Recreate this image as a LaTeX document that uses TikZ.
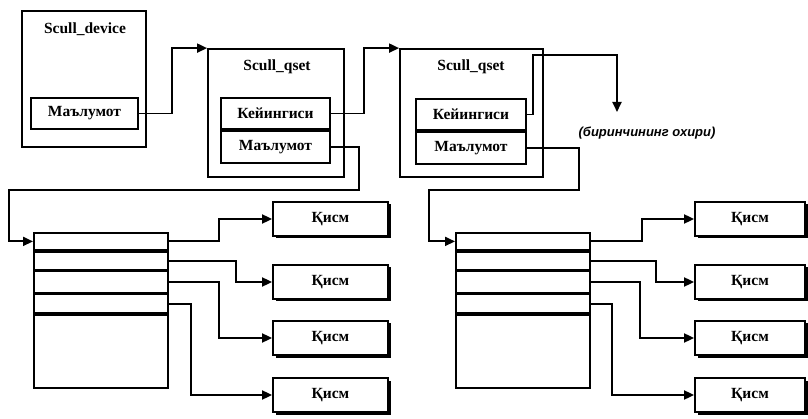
\documentclass[tikz,border=0pt]{standalone}
\usepackage{fontspec}
\setmainfont{Liberation Serif}
\newfontfamily\lblfont{Liberation Sans}
\usetikzlibrary{arrows.meta,shadows,calc}
\begin{document}
\begin{tikzpicture}[x=1pt,y=-1pt,
  box/.style={draw,line width=1.8pt,inner sep=0pt,font=\fontsize{15.5}{18}\selectfont\bfseries},
  frame/.style={draw,line width=1.8pt,inner sep=0pt},
  title/.style={inner sep=0pt,font=\fontsize{15.5}{18}\selectfont\bfseries},
  kism/.style={box,fill=white,minimum height=34pt,drop shadow={shadow xshift=2.5pt,shadow yshift=-2.5pt,fill=black,opacity=1}},
  row/.style={draw,line width=1.8pt,inner sep=0pt,minimum width=134pt},
  conn/.style={line width=1.8pt,-{Triangle[length=10pt,width=9pt]}},
  lbl/.style={inner sep=0pt,font=\lblfont\fontsize{13}{16}\selectfont\bfseries\itshape}]
\useasboundingbox (0,0) rectangle (808,419);

% Scull_device
\node[frame,minimum width=124pt,minimum height=136pt] (dev) at (84,79) {};
\node[title] (devt) at (85,29) {Scull\_device};
\node[box,minimum width=107pt,minimum height=31pt] (data0) at (84.5,113.5) {Маълумот};

% Scull_qset 1
\node[frame,minimum width=136pt,minimum height=128pt] (qset1) at (276,113) {};
\node[title] (q1t) at (277,67) {Scull\_qset};
\node[box,minimum width=109pt,minimum height=31pt] (next1) at (275.5,113.5) {Кейингиси};
\node[box,minimum width=109pt,minimum height=32pt,anchor=north] (data1) at (next1.south) {Маълумот};

% Scull_qset 2
\node[frame,minimum width=143pt,minimum height=128pt] (qset2) at (471.5,113) {};
\node[title] (q2t) at (471,67) {Scull\_qset};
\node[box,minimum width=110pt,minimum height=31pt] (next2) at (471,114.5) {Кейингиси};
\node[box,minimum width=110pt,minimum height=32pt,anchor=north] (data2) at (next2.south) {Маълумот};

% end marker
\coordinate (endc) at (617,112);
\node[lbl] (endl) at (647,133) {(биринчининг охири)};

% Table 1
\node[row,minimum height=17pt,anchor=north west] (r1L) at (33,232) {};
\node[row,minimum height=18pt,anchor=north] (r2L) at (r1L.south) {};
\node[row,minimum height=21pt,anchor=north] (r3L) at (r2L.south) {};
\node[row,minimum height=19pt,anchor=north] (r4L) at (r3L.south) {};
\node[row,minimum height=73pt,anchor=north] (r5L) at (r4L.south) {};

% Table 2
\node[row,minimum height=17pt,anchor=north west] (r1R) at (455,232) {};
\node[row,minimum height=18pt,anchor=north] (r2R) at (r1R.south) {};
\node[row,minimum height=21pt,anchor=north] (r3R) at (r2R.south) {};
\node[row,minimum height=19pt,anchor=north] (r4R) at (r3R.south) {};
\node[row,minimum height=73pt,anchor=north] (r5R) at (r4R.south) {};

% Kism boxes
\node[kism,minimum width=115pt] (k1L) at (330.5,219) {Қисм};
\node[kism,minimum width=115pt] (k2L) at (330.5,282) {Қисм};
\node[kism,minimum width=115pt] (k3L) at (330.5,338) {Қисм};
\node[kism,minimum width=115pt] (k4L) at (330.5,395) {Қисм};
\node[kism,minimum width=110pt] (k1R) at (750,219) {Қисм};
\node[kism,minimum width=110pt] (k2R) at (750,282) {Қисм};
\node[kism,minimum width=110pt] (k3R) at (750,338) {Қисм};
\node[kism,minimum width=110pt] (k4R) at (750,395) {Қисм};

% connectors
\draw[conn] (data0.east) -| ([xshift=-35pt]qset1.north west) -- (qset1.north west);
\draw[conn] (next1.east) -| ([xshift=-35pt]qset2.north west) -- (qset2.north west);
\draw[conn] (next2.east) -- ++(6,0) |- ([yshift=57pt]endc) -- (endc);
\draw[conn] (data1.east) -| (359,190) -- (9,190) |- (r1L.west);
\draw[conn] (data2.east) -| (579,190) -- (429,190) |- (r1R.west);

\draw[conn] (r1L.east) -| ([xshift=-53pt]k1L.west) -- (k1L.west);
\draw[conn] (r2L.east) -| ([xshift=-36pt]k2L.west) -- (k2L.west);
\draw[conn] (r3L.east) -| ([xshift=-53pt]k3L.west) -- (k3L.west);
\draw[conn] (r4L.east) -| ([xshift=-81pt]k4L.west) -- (k4L.west);
\draw[conn] (r1R.east) -| ([xshift=-52pt]k1R.west) -- (k1R.west);
\draw[conn] (r2R.east) -| ([xshift=-38pt]k2R.west) -- (k2R.west);
\draw[conn] (r3R.east) -| ([xshift=-54pt]k3R.west) -- (k3R.west);
\draw[conn] (r4R.east) -| ([xshift=-82pt]k4R.west) -- (k4R.west);
\end{tikzpicture}
\end{document}
